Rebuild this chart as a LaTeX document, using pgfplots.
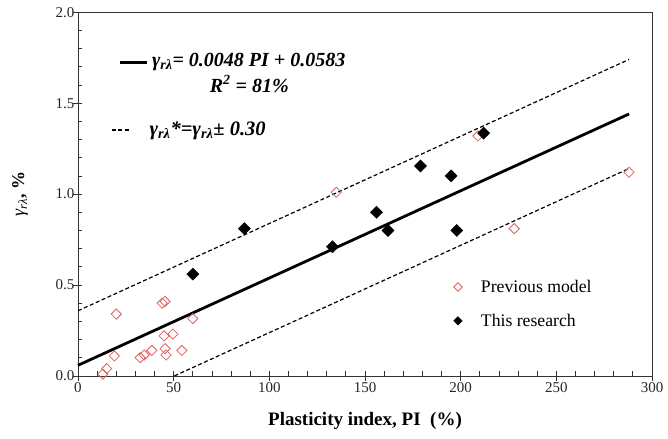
\documentclass[border=0pt]{standalone}
\usepackage{fontspec}
\setmainfont{Liberation Serif}
\usepackage{pgfplots}
\pgfplotsset{compat=1.18}
\definecolor{prevred}{RGB}{225,95,95}

\begin{document}
\begin{tikzpicture}
\begin{axis}[
  scale only axis,
  width=574bp, height=363.6bp,
  xmin=0, xmax=300, ymin=0, ymax=2,
  xtick={0,50,...,300},
  ytick={0,0.5,1.0,1.5,2.0},
  minor x tick num=4, minor y tick num=4,
  xtick pos=left, ytick pos=left,
  tick align=inside,
  major tick length=9.5bp, minor tick length=4.5bp,
  every major x tick/.append style={yshift=-5bp},
  every major y tick/.append style={xshift=-5bp},
  axis line style={black!80, line width=0.8bp},
  tick style={black!80, line width=0.8bp},
  /pgf/number format/assume math mode=true,
  ticklabel style={font=\fontsize{15bp}{18bp}\selectfont, text=black!85},
  xticklabel style={yshift=-3bp},
  yticklabel style={/pgf/number format/.cd, fixed, fixed zerofill, precision=1},
  xlabel={\textbf{Plasticity index, PI\ \ (\%)}},
  every axis x label/.style={at={(rel axis cs:0.5,0)}, yshift=-45bp, anchor=center,
    font=\fontsize{19bp}{22bp}\selectfont},
  ylabel={{\itshape γ}\textsubscript{\itshape rλ}\textbf{, \%}},
  every axis y label/.style={at={(rel axis cs:0,0.5)}, xshift=-58bp, rotate=90, anchor=center,
    font=\fontsize{18bp}{21bp}\selectfont},
  legend style={draw=none, fill=none, at={(rel axis cs:0.639,0.198)}, anchor=west,
    font=\fontsize{17.7bp}{20bp}\selectfont, row sep=16bp},
  legend cell align=left,
  legend image code/.code={\path[draw=none] (-10bp,0bp) -- (21bp,0bp);
    \draw[#1, only marks, mark size=3bp] plot coordinates {(0bp,0bp)};},
  clip=false,
]
% regression line and +/- 0.30 band
\addplot[black, line width=2.8bp, forget plot] coordinates {(0,0.0583) (288,1.4407)};
\addplot[black, line width=1.2bp, dash pattern=on 4bp off 2.5bp, forget plot] coordinates {(0,0.3583) (288,1.7407)};
\addplot[black, line width=1.2bp, dash pattern=on 4bp off 2.5bp, forget plot] coordinates {(50.4,0) (288,1.1407)};

% previous model
\addplot[only marks, mark=square, mark size=3.6bp,
  mark options={rotate=45, draw=prevred, fill=none, line width=0.8bp, solid}] coordinates {
  (13,0.01) (15,0.04) (19,0.11) (20,0.34) (32.5,0.10) (34.6,0.115) (38.6,0.14)
  (44,0.40) (45.5,0.41) (45,0.22) (49.6,0.23) (45.5,0.15) (46,0.115) (54.3,0.14)
  (60,0.315) (135,1.01) (209,1.32) (228,0.81) (288,1.12)
};
\addlegendentry{Previous model}

% this research
\addplot[only marks, mark=square*, mark size=4.3bp,
  mark options={rotate=45, draw=black, fill=black, solid}] coordinates {
  (60,0.56) (87,0.81) (133,0.71) (156,0.90) (162,0.80) (179,1.155) (195,1.10)
  (198,0.80) (212,1.335)
};
\addlegendentry{This research}

% equation annotations
\draw[black, line width=2.8bp] (axis cs:22,1.725) -- (axis cs:36.3,1.725);
\node[anchor=west, inner sep=0pt, font=\fontsize{20bp}{23bp}\selectfont\bfseries\itshape]
  at (axis cs:38.6,1.725) {γ\textsubscript{rλ}= 0.0048 PI + 0.0583};
\node[anchor=center, inner sep=0pt, font=\fontsize{20bp}{23bp}\selectfont\bfseries\itshape]
  at (axis cs:89.5,1.605) {R\textsuperscript{2} = 81\%};
\draw[black, line width=1.2bp, dash pattern=on 4bp off 2.5bp] (axis cs:17.6,1.353) -- (axis cs:27.6,1.353);
\node[anchor=west, inner sep=0pt, font=\fontsize{20.5bp}{23bp}\selectfont\bfseries\itshape]
  at (axis cs:37.3,1.35) {γ\textsubscript{rλ}*=γ\textsubscript{rλ}± 0.30};
\end{axis}
\path ([xshift=-78bp,yshift=-63.1bp]current axis.south west) rectangle ([xshift=16bp,yshift=12.3bp]current axis.north east);
\end{tikzpicture}
\end{document}
